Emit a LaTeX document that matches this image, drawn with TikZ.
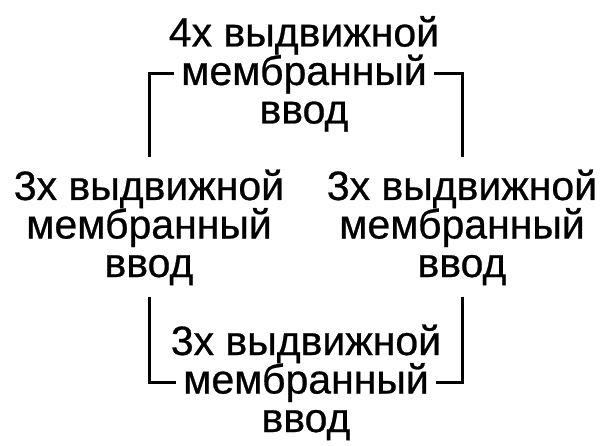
\documentclass[tikz,border=0pt]{standalone}
\usepackage{fontspec}
\setmainfont{Liberation Sans}
\newfontfamily\lblfont[FakeBold=0.6]{Liberation Sans}
\usetikzlibrary{positioning}

\begin{document}
\begin{tikzpicture}[x=1pt, y=-1pt, line width=3pt,
    txt/.style={font=\lblfont\fontsize{41}{41}\selectfont, anchor=base,
        text height=31pt, text depth=8pt, inner xsep=6pt, inner ysep=10pt}]

    \useasboundingbox (0,0) rectangle (604,446);

    % Four text blocks: top, left, right, bottom
    \foreach \n/\x/\y/\k in {t/304/46.5/4, l/149/200/3, r/462/200/3, b/306/355/3} {
        \node[txt] (\n1) at (\x,\y) {\k х выдвижной};
        \node[txt] (\n2) at (\x,\y+38.5) {мембранный};
        \node[txt] (\n3) at (\x,\y+77) {ввод};
    }

    % Brackets between the blocks
    \draw (t2.west) -| (l1.north);
    \draw (t2.east) -| (r1.north);
    \draw (l3.south) |- (b2.west);
    \draw (r3.south) |- (b2.east);

\end{tikzpicture}
\end{document}
